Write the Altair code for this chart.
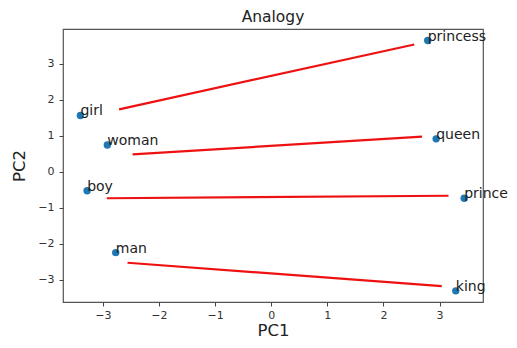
import altair as alt
import pandas as pd

words = ["princess", "girl", "woman", "queen", "boy", "prince", "man", "king"]
pc1 = [2.79, -3.40, -2.92, 2.94, -3.28, 3.44, -2.77, 3.29]
pc2 = [3.64, 1.56, 0.74, 0.91, -0.53, -0.74, -2.25, -3.31]

line_x1 = [-2.71, -2.47, -2.93, -2.56]
line_y1 = [1.73, 0.48, -0.74, -2.53]
line_x2 = [2.55, 2.69, 3.16, 3.04]
line_y2 = [3.53, 0.97, -0.67, -3.18]

tick_vals = [-3, -2, -1, 0, 1, 2, 3]

pts = pd.DataFrame({"word": words, "PC1": pc1, "PC2": pc2})
lines = pd.DataFrame({"x1": line_x1, "y1": line_y1, "x2": line_x2, "y2": line_y2})

FONT = "DejaVu Sans"
xscale = alt.Scale(domain=[-3.71, 3.775], nice=False, zero=False)
yscale = alt.Scale(domain=[-3.62, 3.96], nice=False, zero=False)

common = dict(values=tick_vals, format="d", grid=False, domain=False,
              tickColor="#444", tickSize=4, labelFontSize=11, labelColor="#333",
              labelFont=FONT, titleFont=FONT, titleFontSize=16.5, titleFontWeight="normal",
              titleColor="#222")
xaxis = alt.Axis(title="PC1", labelPadding=3, titlePadding=2, **common)
yaxis = alt.Axis(title="PC2", labelPadding=5, titlePadding=10, **common)

points = alt.Chart(pts).mark_circle(size=55, color="#1f77b4", opacity=1).encode(
    x=alt.X("PC1:Q", scale=xscale, axis=xaxis),
    y=alt.Y("PC2:Q", scale=yscale, axis=yaxis),
)

labels = alt.Chart(pts).mark_text(align="left", baseline="alphabetic", fontSize=14,
                                  font=FONT, color="#222").encode(
    x=alt.X("PC1:Q", scale=xscale),
    y=alt.Y("PC2:Q", scale=yscale),
    text="word:N",
)

segs = alt.Chart(lines).mark_rule(color="#ee1111", strokeWidth=2.2).encode(
    x=alt.X("x1:Q", scale=xscale),
    y=alt.Y("y1:Q", scale=yscale),
    x2="x2:Q",
    y2="y2:Q",
)

chart = alt.layer(segs, points, labels).properties(
    width=420, height=273,
    title=alt.Title("Analogy", font=FONT, fontSize=15.5, fontWeight="normal", color="#222", offset=4),
    autosize=alt.AutoSizeParams(type="none"),
    padding={"left": 55, "top": 21, "right": 26, "bottom": 38},
    background="white",
).configure_view(stroke="#555", strokeWidth=1.2)

chart.save("out.html", embed_options={"renderer": "svg", "actions": False})
